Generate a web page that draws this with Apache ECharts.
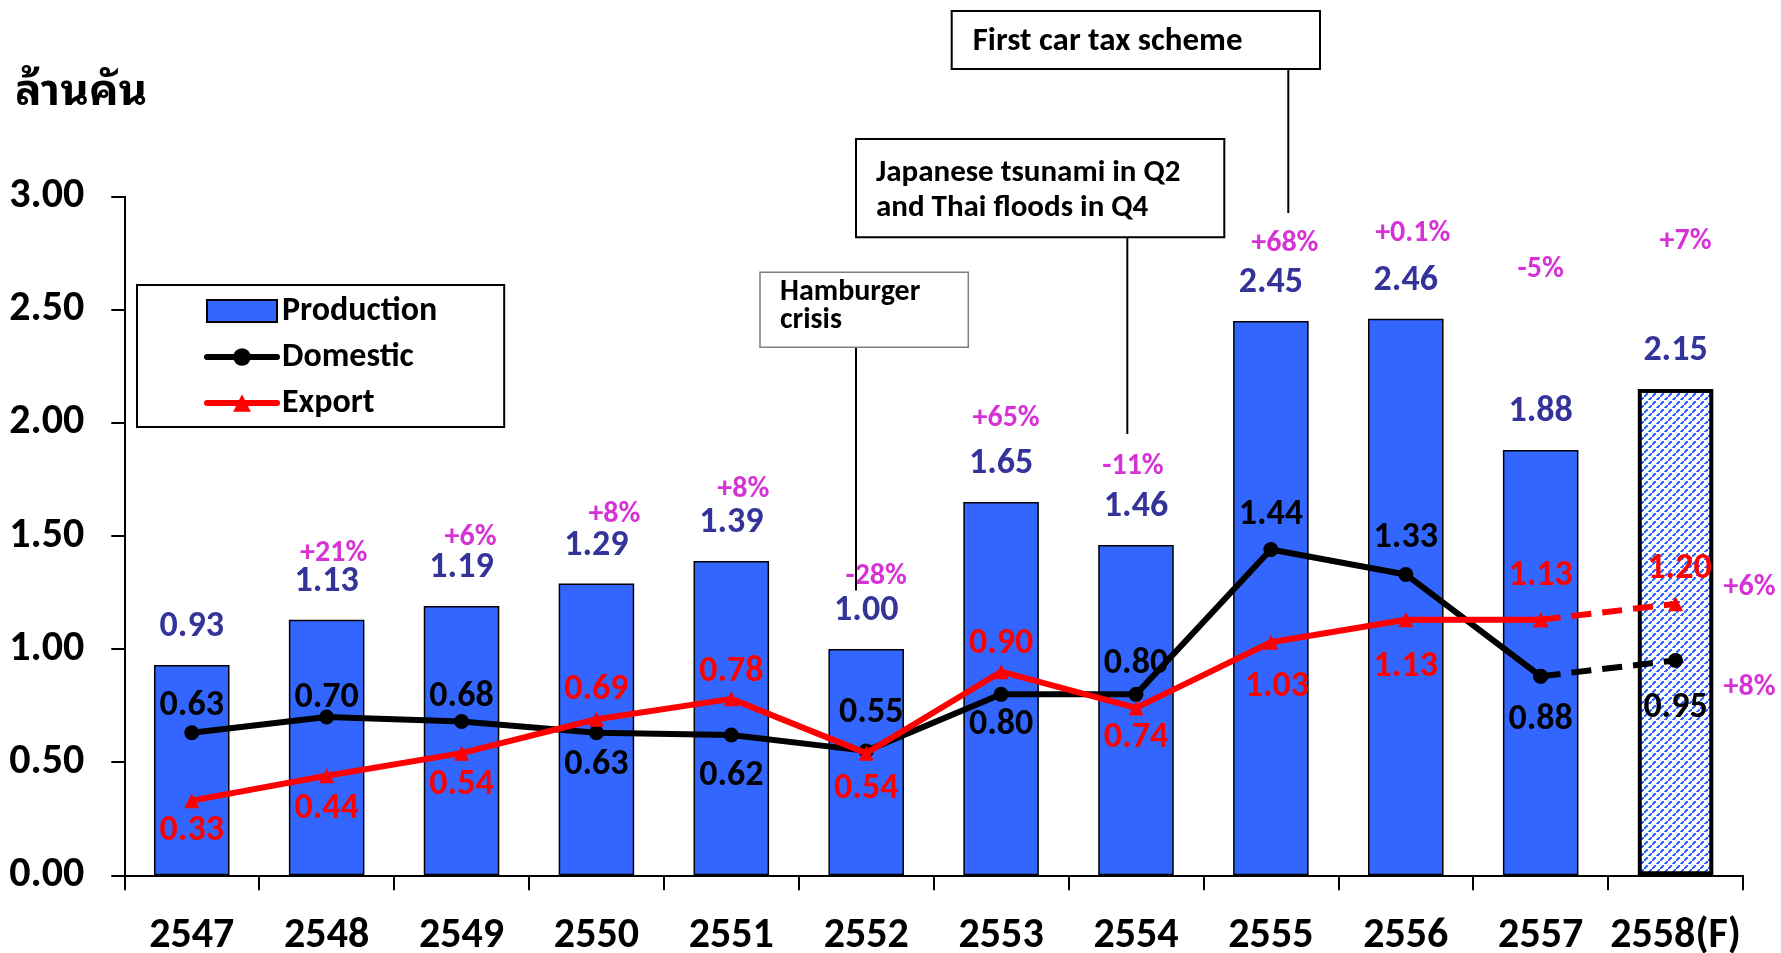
<!DOCTYPE html>
<html><head><meta charset="utf-8">
<script src="https://cdn.jsdelivr.net/npm/echarts@6/dist/echarts.min.js"></script>
<style>html,body{margin:0;padding:0;background:#fff}#c{width:1781px;height:953px}</style>
</head><body><div id="c"></div>
<script>
// ---- data ----
const categories = ['2547','2548','2549','2550','2551','2552','2553','2554','2555','2556','2557','2558(F)'];
const production = [0.93, 1.13, 1.19, 1.29, 1.39, 1.00, 1.65, 1.46, 2.45, 2.46, 1.88, 2.15];
const domestic   = [0.63, 0.70, 0.68, 0.63, 0.62, 0.55, 0.80, 0.80, 1.44, 1.33, 0.88, 0.95];
const exportVals = [0.33, 0.44, 0.54, 0.69, 0.78, 0.54, 0.90, 0.74, 1.03, 1.13, 1.13, 1.20];
const productionGrowth = ['', '+21%', '+6%', '+8%', '+8%', '-28%', '+65%', '-11%', '+68%', '+0.1%', '-5%', '+7%'];
const domesticForecastGrowth = '+8%';
const exportForecastGrowth = '+6%';
const forecastStart = 10; // index where dashed forecast segment begins

// ---- styling config (label placement, px) ----
const FONT = "Carlito, Calibri, 'Open Sans', 'Noto Sans', sans-serif";
const THAI_FONT = "'Noto Sans Thai Looped', Tahoma, Loma, Garuda, 'Noto Sans Thai', 'Noto Serif Thai', 'DejaVu Sans', sans-serif";
const domLabelDy = [-27, -19, -24, 32, 41, -38, 31, -30, -35, -36, 44, 48];
const domLabelDx = [0, 0, 0, 0, 0, 5, 0, 0, 0, 0, 0, 0];
const expLabelDy = [30, 33, 32, -29, -27, 36, -28, 30, 45, 47, -44, -35];
const expLabelDx = [0, 0, 0, 0, 0, 0, 0, 0, 6, 0, 0, 4];
const growthLift = [0, 66, 69, 69, 71, 73, 84, 79, 78, 85, 181, 147];
const growthDx   = [0, 7, 9, 18, 12, 10, 5, -3, 14, 7, 0, 10];

// hatch pattern for forecast bar
const hatch = document.createElement('canvas');
hatch.width = 8; hatch.height = 8;
const hg = hatch.getContext('2d');
hg.fillStyle = '#ffffff'; hg.fillRect(0, 0, 8, 8);
hg.fillStyle = '#3366FF';
for (let i = 0; i < 8; i++) { if (i % 4 === 3) continue; hg.fillRect(i, 7 - i, 2, 2); }

const labelBase = { show: true, fontFamily: FONT, fontWeight: 'bold', fontSize: 36 };
const fmt = p => Number(Array.isArray(p.value) ? p.value[1] : p.value).toFixed(2);

const prodData = production.map((v, i) => i === production.length - 1
  ? { value: v, itemStyle: { color: { image: hatch, repeat: 'repeat' }, borderColor: '#000', borderWidth: 4 } }
  : v);

const lineItem = (v, i, show, dx, dy) => ({ value: v, label: { show, position: 'inside', offset: [dx[i], dy[i]] } });
const domSolid = domestic.map((v, i) => i <= forecastStart ? lineItem(v, i, true, domLabelDx, domLabelDy) : '-');
const domDash  = domestic.map((v, i) => i >= forecastStart ? lineItem(v, i, i > forecastStart, domLabelDx, domLabelDy) : '-');
const expSolid = exportVals.map((v, i) => i <= forecastStart ? lineItem(v, i, true, expLabelDx, expLabelDy) : '-');
const expDash  = exportVals.map((v, i) => i >= forecastStart ? lineItem(v, i, i > forecastStart, expLabelDx, expLabelDy) : '-');

const growthData = production.map((v, i) => ({
  value: [i, v],
  label: { show: !!productionGrowth[i], formatter: productionGrowth[i], offset: [growthDx[i], -growthLift[i]] }
}));
const last = categories.length - 1;
growthData.push({ value: [last, exportVals[last]], label: { show: true, formatter: exportForecastGrowth, offset: [74, -16] } });
growthData.push({ value: [last, domestic[last]], label: { show: true, formatter: domesticForecastGrowth, offset: [74, 27] } });

const chart = echarts.init(document.getElementById('c'), null, { renderer: 'canvas' });

function annoText(x, y, text, size) {
  return { type: 'text', x, y, silent: true, z: 101,
    style: { text, font: `bold ${size}px ${FONT}`, fill: '#000', verticalAlign: 'middle', align: 'left' } };
}
function annoRect(x, y, w, h, stroke, lw) {
  return { type: 'rect', silent: true, z: 100, shape: { x, y, width: w, height: h },
    style: { fill: '#fff', stroke, lineWidth: lw } };
}
function annoLine(x, y1, y2) {
  return { type: 'line', silent: true, z: 100, shape: { x1: x, y1, x2: x, y2 }, style: { stroke: '#000', lineWidth: 2 } };
}

chart.setOption({
  animation: false,
  backgroundColor: '#fff',
  title: { text: 'ล้านคัน', left: 10, top: 66,
    textStyle: { fontSize: 44, fontWeight: 'bold', color: '#000', fontFamily: THAI_FONT } },
  grid: { left: 124.3, right: 38, top: 196.7, bottom: 77.7, containLabel: false, outerBoundsMode: 'none' },
  legend: {
    orient: 'vertical', left: 137, top: 285,
    padding: [9, 67, 7, 67], borderColor: '#000', borderWidth: 2, backgroundColor: '#fff',
    itemWidth: 70, itemHeight: 22, itemGap: 12,
    lineStyle: { width: 6, cap: 'round' },
    textStyle: { fontSize: 34, fontWeight: 'bold', color: '#000', fontFamily: FONT },
    data: [{ name: 'Production', icon: 'rect' }, 'Domestic', 'Export']
  },
  xAxis: {
    type: 'category', data: categories,
    axisLine: { lineStyle: { color: '#000', width: 2 } },
    axisTick: { show: true, length: 15, lineStyle: { color: '#000', width: 2 } },
    axisLabel: { color: '#000', fontSize: 42, fontWeight: 'bold', fontFamily: FONT, margin: 40, interval: 0 },
    splitLine: { show: false }
  },
  yAxis: {
    type: 'value', min: 0, max: 3, interval: 0.5,
    axisLine: { show: true, lineStyle: { color: '#000', width: 2 } },
    axisTick: { show: true, length: 13, lineStyle: { color: '#000', width: 2 } },
    axisLabel: { color: '#000', fontSize: 42, fontWeight: 'bold', fontFamily: FONT, margin: 40,
      padding: [4, 0, 0, 0], formatter: v => v.toFixed(2) },
    splitLine: { show: false }
  },
  series: [
    { name: 'Production', type: 'bar', data: prodData, barWidth: '56%',
      itemStyle: { color: '#3366FF', borderColor: '#000', borderWidth: 1.5 },
      label: Object.assign({}, labelBase, { position: 'top', distance: 20, color: '#333399', formatter: fmt }) },
    { name: 'Domestic', type: 'line', data: domSolid, z: 3,
      symbol: 'circle', symbolSize: 15, showAllSymbol: true,
      lineStyle: { color: '#000', width: 6 }, itemStyle: { color: '#000' },
      label: Object.assign({}, labelBase, { color: '#000', formatter: fmt }) },
    { name: 'Export', type: 'line', data: expSolid, z: 4,
      symbol: 'triangle', symbolSize: 15, showAllSymbol: true,
      lineStyle: { color: '#FF0000', width: 6 }, itemStyle: { color: '#FF0000' },
      label: Object.assign({}, labelBase, { color: '#FF0000', formatter: fmt }) },
    { name: 'Domestic forecast', type: 'line', data: domDash, z: 3,
      symbol: 'circle', symbolSize: 15, showAllSymbol: true,
      lineStyle: { color: '#000', width: 6, type: [20, 11] }, itemStyle: { color: '#000' },
      label: Object.assign({}, labelBase, { color: '#000', formatter: fmt }) },
    { name: 'Export forecast', type: 'line', data: expDash, z: 4,
      symbol: 'triangle', symbolSize: 15, showAllSymbol: true,
      lineStyle: { color: '#FF0000', width: 6, type: [20, 11] }, itemStyle: { color: '#FF0000' },
      label: Object.assign({}, labelBase, { color: '#FF0000', formatter: fmt }) },
    { name: 'Growth', type: 'scatter', data: growthData, z: 6,
      symbolSize: 1, itemStyle: { color: 'rgba(0,0,0,0)' },
      label: { show: true, position: 'inside', color: '#CC00CC', fontSize: 30, fontWeight: 'bold', fontFamily: FONT } }
  ],
  graphic: [
    annoLine(1288.3, 69, 213),
    annoRect(951.7, 11, 368.3, 58, '#000', 2),
    annoText(972.7, 41.7, 'First car tax scheme', 33),
    annoLine(1127.3, 237, 434),
    annoRect(856, 139, 368.3, 98.3, '#000', 2),
    annoText(876, 173, 'Japanese tsunami in Q2', 31),
    annoText(876, 208, 'and Thai floods in Q4', 31),
    annoLine(856, 347, 590.6),
    annoRect(760, 272.3, 208.3, 75, '#7f7f7f', 1.5),
    annoText(780, 292, 'Hamburger', 30),
    annoText(780, 320, 'crisis', 30)
  ]
});
</script></body></html>
